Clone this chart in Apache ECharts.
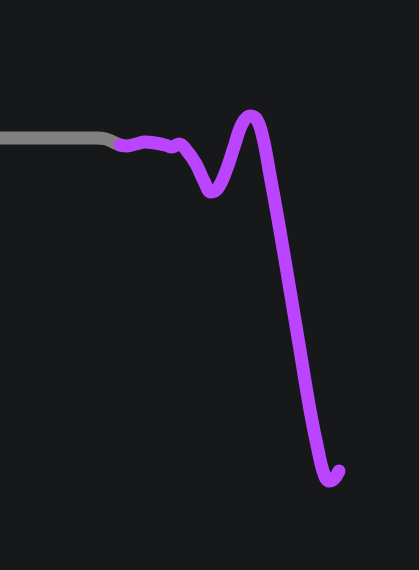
<!DOCTYPE html>
<html><head><meta charset="utf-8">
<script src="https://cdn.jsdelivr.net/npm/echarts@6/dist/echarts.min.js"></script>
<style>html,body{margin:0;padding:0;background:#17181a;}#c{width:419px;height:570px;}</style>
</head><body><div id="c"></div>
<script>
const greyX = [0, 60, 96, 106, 113, 120];
const greyY = [138, 138, 138, 139, 142, 145];
const purpleX = [120, 127, 136, 145, 155, 165, 172, 179, 187, 196, 204, 211, 218, 226, 234, 242, 250, 257, 263, 270, 279, 290, 300, 310, 318, 324, 329, 334, 339];
const purpleY = [145, 146, 144, 142, 143, 145, 147, 144, 151, 164, 181, 192, 188, 171, 147, 124, 116, 120, 138, 175, 225, 290, 350, 410, 450, 474, 481, 479, 471];
const chart = echarts.init(document.getElementById('c'));
chart.setOption({
  backgroundColor: '#17181a',
  animation: false,
  grid: {left: 0, right: 0, top: 0, bottom: 0},
  xAxis: {type: 'value', min: 0, max: 419, show: false},
  yAxis: {type: 'value', min: 0, max: 570, inverse: true, show: false},
  series: [
    {type: 'line', data: greyX.map((x, i) => [x, greyY[i]]), smooth: 0.4, symbol: 'none',
     lineStyle: {color: '#808080', width: 13, cap: 'round', join: 'round'}},
    {type: 'line', data: purpleX.map((x, i) => [x, purpleY[i]]), smooth: 0.4, symbol: 'none',
     lineStyle: {color: '#bb44ff', width: 13, cap: 'round', join: 'round'}}
  ]
});
</script></body></html>
